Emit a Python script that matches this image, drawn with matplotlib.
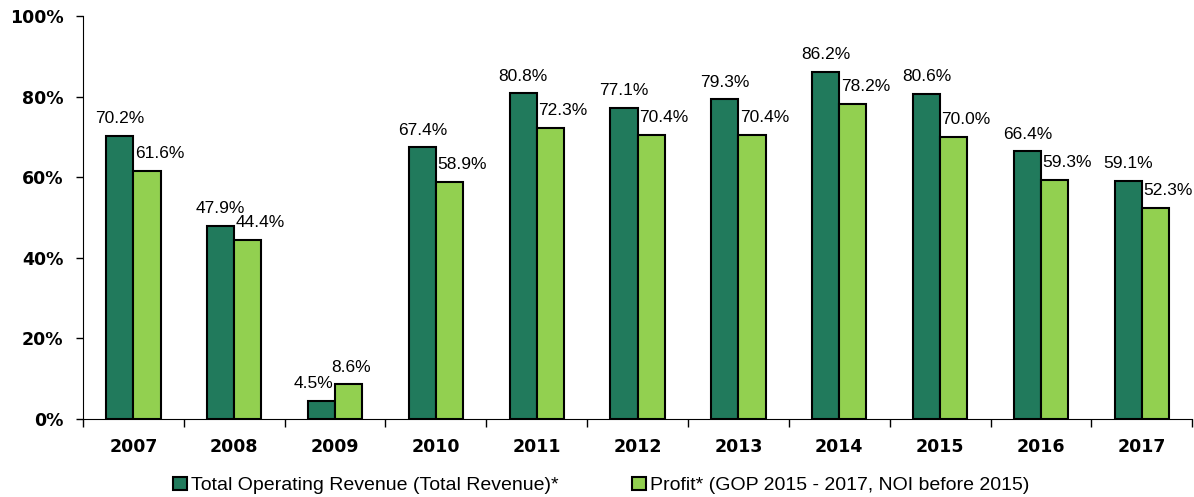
import matplotlib.pyplot as plt
import numpy as np

# Dados
anos = ['2007', '2008', '2009', '2010', '2011', '2012', '2013', '2014', '2015', '2016', '2017']
receita = [70.2, 47.9, 4.5, 67.4, 80.8, 77.1, 79.3, 86.2, 80.6, 66.4, 59.1]
lucro = [61.6, 44.4, 8.6, 58.9, 72.3, 70.4, 70.4, 78.2, 70.0, 59.3, 52.3]
nome_receita = 'Total Operating Revenue (Total Revenue)*'
nome_lucro = 'Profit* (GOP 2015 - 2017, NOI before 2015)'

cor_escura = '#217A5C'
cor_clara = '#92D050'

fig = plt.figure(figsize=(11.94, 4.97), dpi=100)
ax = fig.add_axes([0.0695, 0.157, 0.929, 0.811])

x = np.arange(len(anos))
largura = 0.27
b1 = ax.bar(x - largura / 2, receita, largura, color=cor_escura, edgecolor='black',
            linewidth=1.5, label=nome_receita)
b2 = ax.bar(x + largura / 2, lucro, largura, color=cor_clara, edgecolor='black',
            linewidth=1.5, label=nome_lucro)

# rótulos de valor
for i, v in enumerate(receita):
    dx = -6 if anos[i] == '2009' else 0
    ax.annotate(f'{v:.1f}%', (x[i] - largura / 2, v), xytext=(dx, 7),
                textcoords='offset points', ha='center', va='bottom',
                fontsize=12.5, family='Liberation Sans')
for i, v in enumerate(lucro):
    dx = 2 if anos[i] == '2009' else 9
    ax.annotate(f'{v:.1f}%', (x[i] + largura / 2, v), xytext=(dx, 7),
                textcoords='offset points', ha='center', va='bottom',
                fontsize=12.5, family='Liberation Sans')

ax.set_xlim(-0.5, len(anos) - 0.5)
ax.set_ylim(0, 100)
ax.set_yticks(range(0, 101, 20))
ax.set_yticklabels([f'{t}%' for t in range(0, 101, 20)], fontsize=12.5,
                   fontweight='bold', family='DejaVu Sans')
ax.set_xticks(x)
ax.set_xticklabels(anos, fontsize=12.5, fontweight='bold', family='DejaVu Sans')
ax.set_xticks(np.arange(-0.5, len(anos)), minor=True)
ax.tick_params(axis='x', which='major', length=0, pad=14)
ax.tick_params(axis='x', which='minor', length=6, direction='out', width=1)
ax.tick_params(axis='y', length=5, width=1, pad=9)

ax.spines['top'].set_visible(False)
ax.spines['right'].set_visible(False)

leg = ax.legend(loc='upper center', bbox_to_anchor=(0.467, -0.1), ncol=2,
                frameon=False, prop={'family': 'Liberation Sans', 'size': 14},
                handlelength=0.7, handleheight=0.7, handletextpad=0.2,
                columnspacing=3.8)

plt.savefig('out.png', dpi=100, facecolor='white')
plt.close()
